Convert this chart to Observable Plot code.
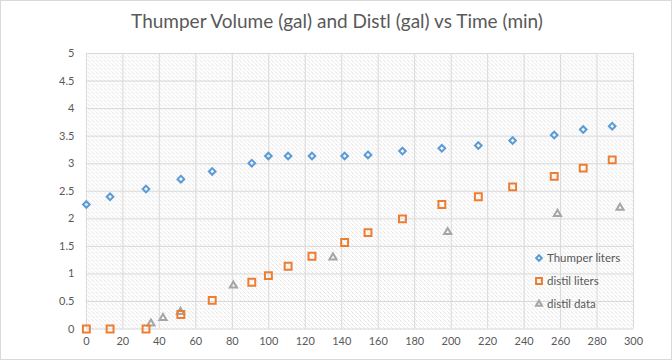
<!DOCTYPE html>
<html>
<head>
<meta charset="utf-8">
<script src="https://cdn.jsdelivr.net/npm/d3@7"></script>
<script src="https://cdn.jsdelivr.net/npm/@observablehq/plot@0.6"></script>
<style>
  html, body { margin: 0; padding: 0; background: #fff; }
  #wrap { position: relative; width: 672px; height: 360px; box-sizing: border-box; border: 1px solid #d9d9d9; overflow: hidden; font-family: Lato, "Open Sans", sans-serif; }
  #title { position: absolute; left: 0; top: 0; width: 672px; height: 40px; text-align: center; font-size: 19px; line-height: 40px; color: #595959; }
  #chart { position: absolute; left: -1px; top: 39px; }
  #legend { position: absolute; left: 531px; top: 245px; font-size: 11.5px; color: #595959; }
  #legend div { height: 23px; display: flex; align-items: center; }
  #legend svg { margin-right: 1px; }
</style>
</head>
<body>
<div id="wrap">
  <div id="title">Thumper Volume (gal) and Distl (gal) vs Time (min)</div>
  <div id="chart"></div>
  <div id="legend"></div>
</div>
<script>
// Thumper liters
const thumperTime = [0, 13, 32.7, 51.8, 69, 90.7, 99.8, 110.6, 123.7, 141.6, 154.4, 173.3, 194.9, 214.9, 233.7, 256.5, 272.4, 288.3];
const thumperVal  = [2.26, 2.40, 2.54, 2.72, 2.86, 3.01, 3.14, 3.14, 3.14, 3.14, 3.16, 3.23, 3.28, 3.33, 3.42, 3.52, 3.62, 3.68];
// distil liters
const distilTime = [0, 13, 32.7, 51.8, 69, 90.7, 99.8, 110.6, 123.7, 141.6, 154.4, 173.3, 194.9, 214.9, 233.7, 256.5, 272.4, 288.3];
const distilVal  = [0, 0, 0, 0.265, 0.52, 0.85, 0.97, 1.14, 1.32, 1.57, 1.75, 2.00, 2.26, 2.40, 2.58, 2.77, 2.92, 3.07];
// distil data
const dataTime = [35.4, 42, 51.6, 80.6, 135.2, 198.1, 258.3, 292.6];
const dataVal  = [0.1, 0.2, 0.31, 0.79, 1.30, 1.76, 2.09, 2.20];

const xTicks = [0, 20, 40, 60, 80, 100, 120, 140, 160, 180, 200, 220, 240, 260, 280, 300];
const yTicks = [0, 0.5, 1, 1.5, 2, 2.5, 3, 3.5, 4, 4.5, 5];

const seriesNames = ["Thumper liters", "distil liters", "distil data"];
const seriesColors = ["#5b9bd5", "#ed7d31", "#a5a5a5"];

const thumper = thumperTime.map((t, i) => ({t, v: thumperVal[i]}));
const distil = distilTime.map((t, i) => ({t, v: distilVal[i]}));
const ddata = dataTime.map((t, i) => ({t, v: dataVal[i]}));

const plot = Plot.plot({
  width: 672,
  height: 320,
  marginLeft: 86,
  marginRight: 38,
  marginTop: 13,
  marginBottom: 31,
  style: {fontFamily: "Lato, 'Open Sans', sans-serif", fontSize: "11px", color: "#595959", background: "transparent"},
  x: {domain: [0, 300], ticks: xTicks, tickSize: 0, tickPadding: 10, label: null},
  y: {domain: [0, 5], ticks: yTicks, tickSize: 0, tickPadding: 12, label: null},
  marks: [
    Plot.frame({fill: "url(#hatch)", stroke: null}),
    Plot.gridX(xTicks, {stroke: "#d9d9d9", strokeOpacity: 1, strokeWidth: 1}),
    Plot.gridY(yTicks, {stroke: "#d9d9d9", strokeOpacity: 1, strokeWidth: 1}),
    Plot.axisX({ticks: xTicks, tickSize: 0, tickPadding: 8, fill: "#595959", fontSize: 11, tickFormat: d => String(d)}),
    Plot.axisY({ticks: yTicks, tickSize: 0, tickPadding: 12, fill: "#595959", fontSize: 11, tickFormat: d => String(d)}),
    Plot.dot(ddata, {x: "t", y: "v", symbol: "triangle2", r: 3.4, stroke: seriesColors[2], strokeWidth: 2, fill: "none"}),
    Plot.dot(distil, {x: "t", y: "v", symbol: "square2", r: 4.4, stroke: seriesColors[1], strokeWidth: 2, fill: "none"}),
    Plot.dot(thumper, {x: "t", y: "v", symbol: "diamond2", r: 3.0, stroke: seriesColors[0], strokeWidth: 2, fill: "none"})
  ]
});

// hatch pattern for the plot area
const svg = d3.select(plot);
const defs = svg.insert("defs", ":first-child");
const pat = defs.append("pattern")
  .attr("id", "hatch").attr("patternUnits", "userSpaceOnUse")
  .attr("width", 4).attr("height", 4);
pat.append("rect").attr("width", 4).attr("height", 4).attr("fill", "#ffffff");
pat.append("path").attr("d", "M0,0L4,4M-1,3L1,5M3,-1L5,1")
  .attr("stroke", "#c8c8c8").attr("stroke-width", 0.9).attr("stroke-dasharray", "1,1");

document.getElementById("chart").appendChild(plot);

// legend
const legend = d3.select("#legend");
const symSize = [3.0, 4.4, 3.4];
seriesNames.forEach((name, i) => {
  const row = legend.append("div");
  const s = row.append("svg").attr("width", 14).attr("height", 14);
  const r = symSize[i] * 0.85;
  const gen = d3.symbol(
    i === 0 ? d3.symbolDiamond2 : i === 1 ? d3.symbolSquare2 : d3.symbolTriangle2,
    Math.PI * r * r);
  s.append("path").attr("d", gen()).attr("transform", "translate(7,7)")
    .attr("fill", "none").attr("stroke", seriesColors[i]).attr("stroke-width", 2);
  row.append("span").text(name);
});
</script>
</body>
</html>
